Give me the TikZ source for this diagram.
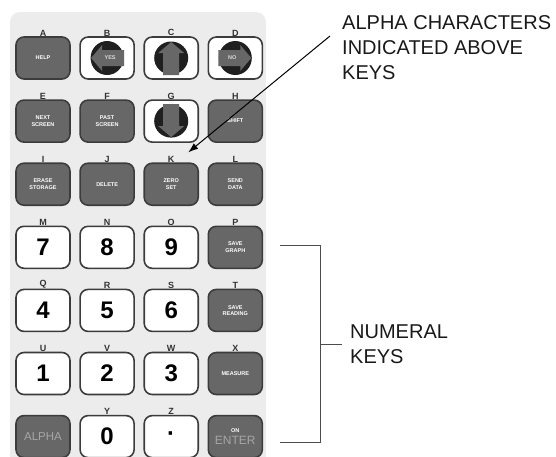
\documentclass[tikz,border=0pt]{standalone}
\usepackage{fontspec}
\setmainfont{Liberation Sans}
\usetikzlibrary{arrows.meta,calc,positioning}

\definecolor{panelgray}{HTML}{ECECEC}
\definecolor{keydark}{HTML}{676767}
\definecolor{keyedge}{HTML}{3C3C3C}

\begin{document}
\begin{tikzpicture}[
 x=1pt,y=-1pt,
 node distance=19.5pt and 8.5pt,
 label distance=-1pt,
 key/.style={draw=keyedge,line width=1.6pt,rounded corners=8pt,minimum width=54pt,minimum height=42pt,inner sep=0pt,align=center},
 fnkey/.style={key,fill=keydark,text=white,font=\bfseries\fontsize{5.5}{6.5}\selectfont},
 numkey/.style={key,fill=white,font=\bfseries\fontsize{24}{24}\selectfont},
 padkey/.style={key,fill=white},
 letter/.style={font=\bfseries\fontsize{9}{9}\selectfont,text=black!80,inner sep=1pt},
 padtext/.style={text=black!15,font=\bfseries\fontsize{5.5}{6}\selectfont,inner sep=0pt},
 callout/.style={align=left,inner sep=0pt,font=\fontsize{20}{25}\selectfont,text=black!90},
 arrow/.style={-{Latex[length=10pt,width=7pt]},line width=1pt},
 bracket/.style={line width=1.2pt,draw=black!70},
 arrowpad/.pic={
  \fill[black!88] (0,0) ellipse (16.5 and 17);
  \fill[keydark] (-16,0) -- (-5,-13) -- (-5,-8) -- (17,-8) -- (17,8) -- (-5,8) -- (-5,13) -- cycle;
 }
]
\useasboundingbox (0,0) rectangle (556,456);
\fill[panelgray,rounded corners=10pt] (10,12) rectangle (266,480);

% keypad
\node[fnkey,label={[letter]above:A}] (keyA) at (43,58) {HELP};
\node[padkey,right=of keyA,label={[letter]above:B}] (keyB) {};
\node[padkey,right=of keyB,label={[letter]above:C}] (keyC) {};
\node[padkey,right=of keyC,label={[letter]above:D}] (keyD) {};
\node[fnkey,below=of keyA,label={[letter]above:E}] (keyE) {NEXT\\SCREEN};
\node[fnkey,right=of keyE,label={[letter]above:F}] (keyF) {PAST\\SCREEN};
\node[padkey,right=of keyF,label={[letter]above:G}] (keyG) {};
\node[fnkey,right=of keyG,label={[letter]above:H}] (keyH) {SHIFT};
\node[fnkey,below=of keyE,label={[letter]above:I}] (keyI) {ERASE\\STORAGE};
\node[fnkey,right=of keyI,label={[letter]above:J}] (keyJ) {DELETE};
\node[fnkey,right=of keyJ,label={[letter]above:K}] (keyK) {ZERO\\SET};
\node[fnkey,right=of keyK,label={[letter]above:L}] (keyL) {SEND\\DATA};
\node[numkey,below=of keyI,label={[letter]above:M}] (keyM) {7};
\node[numkey,right=of keyM,label={[letter]above:N}] (keyN) {8};
\node[numkey,right=of keyN,label={[letter]above:O}] (keyO) {9};
\node[fnkey,right=of keyO,label={[letter]above:P}] (keyP) {SAVE\\GRAPH};
\node[numkey,below=of keyM,label={[letter]above:Q}] (keyQ) {4};
\node[numkey,right=of keyQ,label={[letter]above:R}] (keyR) {5};
\node[numkey,right=of keyR,label={[letter]above:S}] (keyS) {6};
\node[fnkey,right=of keyS,label={[letter]above:T}] (keyT) {SAVE\\READING};
\node[numkey,below=of keyQ,label={[letter]above:U}] (keyU) {1};
\node[numkey,right=of keyU,label={[letter]above:V}] (keyV) {2};
\node[numkey,right=of keyV,label={[letter]above:W}] (keyW) {3};
\node[fnkey,right=of keyW,label={[letter]above:X}] (keyX) {MEASURE};
\node[fnkey,below=of keyU,text=black!35,font=\fontsize{11.5}{12}\selectfont] (keyAlpha) {ALPHA};
\node[numkey,right=of keyAlpha,label={[letter]above:Y}] (keyY) {0};
\node[numkey,right=of keyY,label={[letter]above:Z}] (keyZ) {·};
\node[fnkey,right=of keyZ] (keyEnter) {ON\\[3pt]{\mdseries\fontsize{12}{12}\selectfont\color{black!35}ENTER}};

% arrow pads
\pic at (keyB) {arrowpad};
\pic[rotate=-90] at (keyC) {arrowpad};
\pic[rotate=180] at (keyD) {arrowpad};
\pic[rotate=90] at (keyG) {arrowpad};
\node[padtext] (yes) at ($(keyB)+(3,0)$) {YES};
\node[padtext] (no) at ($(keyD)+(-3,0)$) {NO};

% callouts
\node[callout,anchor=north west] (alphanote) at (342,15) {ALPHA CHARACTERS\\INDICATED ABOVE\\KEYS};
\draw[arrow] ($(alphanote.north west)+(-12,21)$) -- ($(keyK.north)+(17,-10)$);
\node[callout,anchor=north west] (numeral) at (350,325) {NUMERAL\\KEYS};
\coordinate (brtop) at ($(keyP.east)+(17,-2)$);
\coordinate (brbot) at ($(keyEnter.east)+(17,6)$);
\coordinate (brside) at ($(brtop)+(40,0)$);
\draw[bracket] (brtop) -- (brside) |- (brbot);
\draw[bracket] (brside |- numeral.west) -- ++(22,0);
\end{tikzpicture}
\end{document}
